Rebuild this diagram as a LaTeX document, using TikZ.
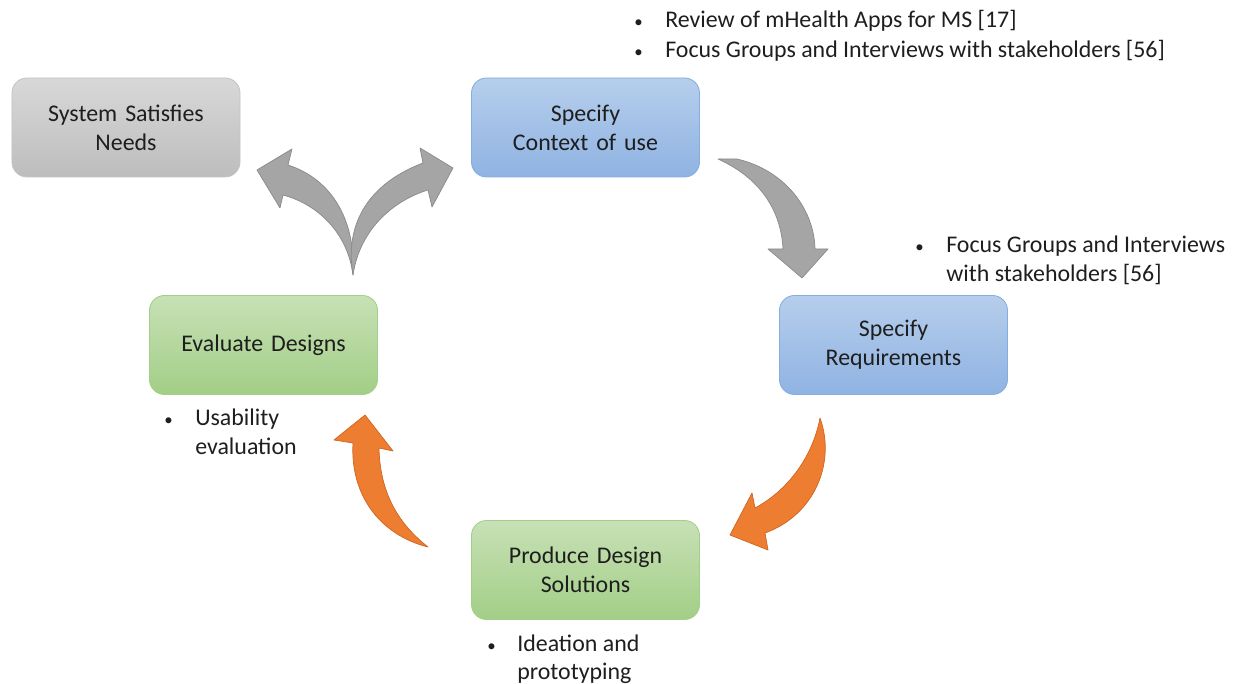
\documentclass[tikz,border=0pt]{standalone}
\usepackage{fontspec}
\setmainfont{Carlito}
\usepackage{tikz}
\usetikzlibrary{shapes,arrows}
\usetikzlibrary{positioning}
\definecolor{grayTop}{HTML}{D8D8D8}
\definecolor{grayBot}{HTML}{BDBDBD}
\definecolor{grayLine}{HTML}{C4C4C4}
\definecolor{blueTop}{HTML}{B6CEEC}
\definecolor{blueBot}{HTML}{8FB3E2}
\definecolor{blueLine}{HTML}{85AEE0}
\definecolor{greenTop}{HTML}{C7E1B6}
\definecolor{greenBot}{HTML}{A2CE86}
\definecolor{greenLine}{HTML}{A4CF88}
\definecolor{arrowGray}{HTML}{A5A5A5}
\definecolor{arrowGrayLine}{HTML}{8A8A8A}
\definecolor{arrowOrange}{HTML}{ED7D31}
\definecolor{arrowOrangeLine}{HTML}{CF6520}
\definecolor{textDark}{HTML}{1E1E1E}
\newcommand{\pt}{{\fontsize{12}{12}\selectfont\textbullet}}
\tikzstyle{phase} = [rectangle, draw, line width=0.6pt, rounded corners=3.75mm,
minimum width=57mm, minimum height=24.75mm, text width=54mm, align=center,
text=textDark, font=\fontsize{17}{20.6}\selectfont]
\tikzstyle{graybox} = [phase, draw=grayLine, top color=grayTop, bottom color=grayBot]
\tikzstyle{bluebox} = [phase, draw=blueLine, top color=blueTop, bottom color=blueBot]
\tikzstyle{greenbox} = [phase, draw=greenLine, top color=greenTop, bottom color=greenBot]
\tikzstyle{note} = [anchor=base west, inner sep=0pt, text=textDark,
font=\fontsize{17}{20.6}\selectfont]
\tikzstyle{grayarrow} = [fill=arrowGray, draw=arrowGrayLine, line width=0.5pt, line join=round]
\tikzstyle{orangearrow} = [fill=arrowOrange, draw=arrowOrangeLine, line width=0.5pt, line join=round]

\begin{document}
\begin{tikzpicture}[x=0.25mm, y=-0.25mm]
\useasboundingbox (0,0) rectangle (1236,684);
% Place nodes
\node [graybox] (sys) at (126,127.5) {System Satisfies\\Needs};
\node [bluebox] (ctx) at (585.5,127.5) {Specify\\Context of use};
\node [bluebox] (req) at (893.5,345) {Specify\\Requirements};
\node [greenbox] (prod) at (585.5,570) {Produce Design\\Solutions};
\node [greenbox] (eval) at (263.5,345) {Evaluate Designs};

% Notes
\node [note] (ctxnote) at (634,28) {\begin{tabular}[t]{@{}p{7.75mm}@{}l@{}}
\pt & Review of mHealth Apps for MS [17]\\[0.7pt]
\pt & Focus Groups and Interviews with stakeholders [56]
\end{tabular}};
\node [note] (reqnote) at (915,253) {\begin{tabular}[t]{@{}p{7.75mm}@{}l@{}}
\pt & Focus Groups and Interviews\\
 & with stakeholders [56]
\end{tabular}};
\node [note] (evalnote) at (164,426) {\begin{tabular}[t]{@{}p{7.75mm}@{}l@{}}
\pt & Usability\\
 & evaluation
\end{tabular}};
\node [note] (prodnote) at (487,651) {\begin{tabular}[t]{@{}p{7.5mm}@{}l@{}}
\pt & Ideation and\\
 & prototyping
\end{tabular}};

% Draw arrows
% context -> requirements
\filldraw [grayarrow] (718,159) -- (737,159) .. controls (784,170) and (814,208) .. (815,249)
  -- (828,249) -- (802,278) -- (768,249) -- (783,249)
  .. controls (781,210) and (760,178) .. (718,159) -- cycle;
% requirements -> design solutions
\filldraw [orangearrow] (820,418) .. controls (836,462) and (815,515) .. (765,533)
  -- (768,550) -- (730,535) -- (752,493) -- (755,508)
  .. controls (785,492) and (812,460) .. (820,418) -- cycle;
% design solutions -> evaluate
\filldraw [orangearrow] (428,547) .. controls (380,535) and (350,495) .. (353,443)
  -- (334,440) -- (365,415) -- (393,451) -- (379,448)
  .. controls (380,495) and (400,525) .. (428,547) -- cycle;
% evaluate -> needs / context
\filldraw [grayarrow] (353,275) .. controls (348,235) and (320,205) .. (283,195)
  -- (280,208) -- (257,170) -- (292,149) -- (288,165)
  .. controls (328,178) and (356,215) .. (353,275) -- cycle;
\filldraw [grayarrow] (353,275) .. controls (343,215) and (378,180) .. (423,163)
  -- (420,148) -- (453,168) -- (432,207) -- (428,190)
  .. controls (395,200) and (360,228) .. (353,275) -- cycle;
\end{tikzpicture}
\end{document}
